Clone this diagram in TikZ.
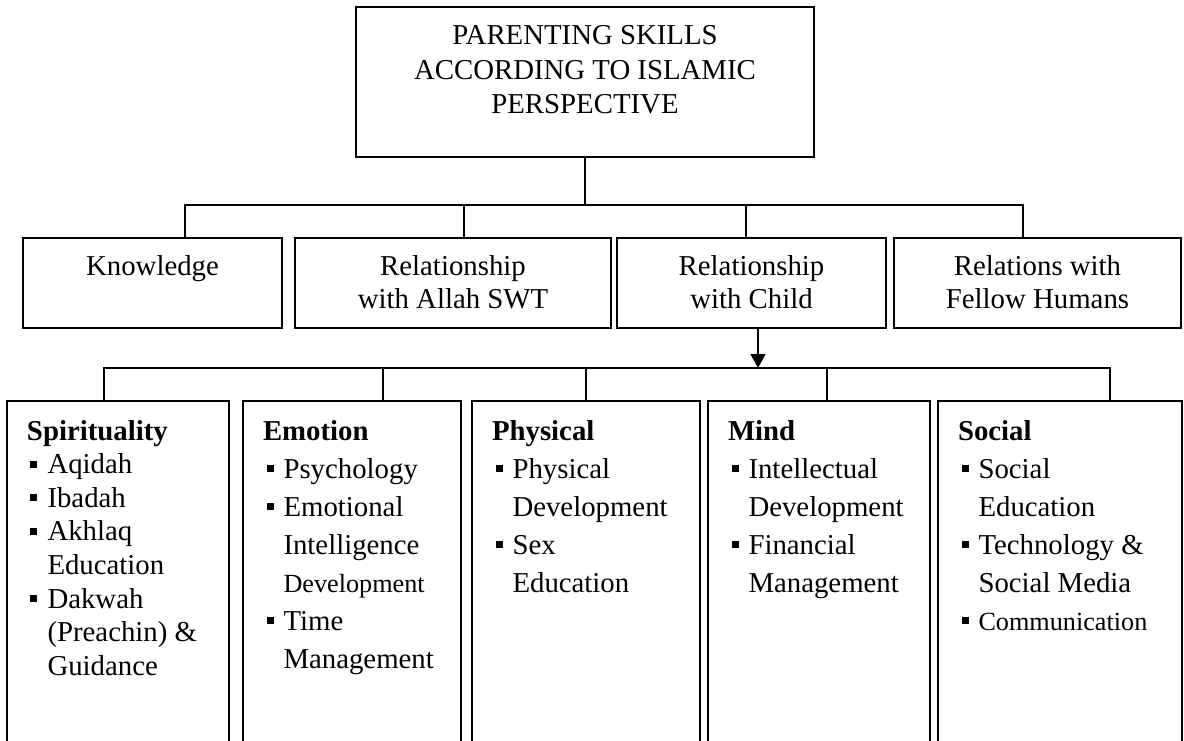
\documentclass[tikz,border=0pt]{standalone}
\usepackage{fontspec}
\setmainfont{Liberation Serif}
\usetikzlibrary{positioning, arrows.meta}
\tikzset{panel/.style 2 args={draw, inner sep=0pt, outer sep=0pt,
		execute at begin node={\begin{minipage}[t][#2][t]{#1}},
		execute at end node={\end{minipage}}},
	title node/.style={panel={458pt}{150pt}, anchor=north west, font=\fontsize{28.8}{34.5}\selectfont},
	area node/.style={panel={#1}{90pt}, font=\fontsize{28.8}{33}\selectfont},
	aspect node/.style={panel={#1}{400pt}, font=\fontsize{28.8}{38}\selectfont},}
\newcommand{\aspecthead}[1]{\raggedright\leftskip=20pt\rule{0pt}{39pt}\textbf{#1}}
\newcommand{\itemsq}{\par\noindent\hangindent=20.5pt\hangafter=1\makebox[20.5pt][l]{\hspace{3.5pt}\rule[6pt]{7pt}{7pt}}}
\newcommand{\smalltext}[1]{{\fontsize{26.2}{38}\selectfont #1}}

\begin{document}
\begin{tikzpicture}[x=1pt, y=-1pt, line width=1.8pt, >={Triangle[width=15pt,length=14pt]}]
	\useasboundingbox (0,0) rectangle (1184,741);
	\clip (0,0) rectangle (1184,741);
	% Boxes
	\node[title node] (title) at (356,7) {\centering\rule{0pt}{38pt}PARENTING SKILLS\\ACCORDING TO ISLAMIC\\PERSPECTIVE\par};
	\node[area node=259pt, anchor=north west] (knowledge) at (23,238) {\centering\rule{0pt}{37pt}Knowledge\par};
	\node[area node=316pt] [right = 13pt of knowledge] (allah) {\centering\rule{0pt}{37pt}Relationship\\with Allah SWT\par};
	\node[area node=269pt] [right = 6pt of allah] (child) {\centering\rule{0pt}{37pt}Relationship\\with Child\par};
	\node[area node=287pt] [right = 8pt of child] (fellow) {\centering\rule{0pt}{37pt}Relations with\\Fellow Humans\par};
	\node[aspect node=222pt, anchor=north west, font=\fontsize{28.8}{33.6}\selectfont] (spirit) at (7,401)
		{\aspecthead{Spirituality}\itemsq Aqidah\itemsq Ibadah\itemsq Akhlaq\newline Education\itemsq Dakwah\newline (Preachin) \&\newline Guidance\par};
	\node[aspect node=218pt] [right = 14pt of spirit] (emotion)
		{\aspecthead{Emotion}\itemsq Psychology\itemsq Emotional\newline Intelligence\newline \smalltext{Development}\itemsq Time\newline Management\par};
	\node[aspect node=228pt] [right = 11pt of emotion] (physical)
		{\aspecthead{Physical}\itemsq Physical\newline Development\itemsq Sex\newline Education\par};
	\node[aspect node=222pt] [right = 8pt of physical] (mind)
		{\aspecthead{Mind}\itemsq Intellectual\newline Development\itemsq Financial\newline Management\par};
	\node[aspect node=244pt] [right = 8pt of mind] (social)
		{\aspecthead{Social}\itemsq Social\newline Education\itemsq Technology \&\newline Social Media\itemsq \smalltext{Communication}\par};
	\coordinate (bus1) at (585,205);
	\coordinate (bus2) at (758,368);
	% Lines
	\path[draw]
	(title.south) -- (bus1)
	(knowledge.north -| 185,0) |- (bus1)
	(fellow.north -| 1023,0) |- (bus1)
	(allah.north -| 464,0) -- (464,0 |- bus1)
	(child.north -| 746,0) -- (746,0 |- bus1)
	(spirit.north -| 104,0) |- (bus2)
	(social.north -| 1110,0) |- (bus2)
	(emotion.north -| 383,0) -- (383,0 |- bus2)
	(physical.north -| 586,0) -- (586,0 |- bus2)
	(mind.north -| 827,0) -- (827,0 |- bus2);
	\draw[->] (child.south -| 758,0) -- (bus2);
\end{tikzpicture}
\end{document}
